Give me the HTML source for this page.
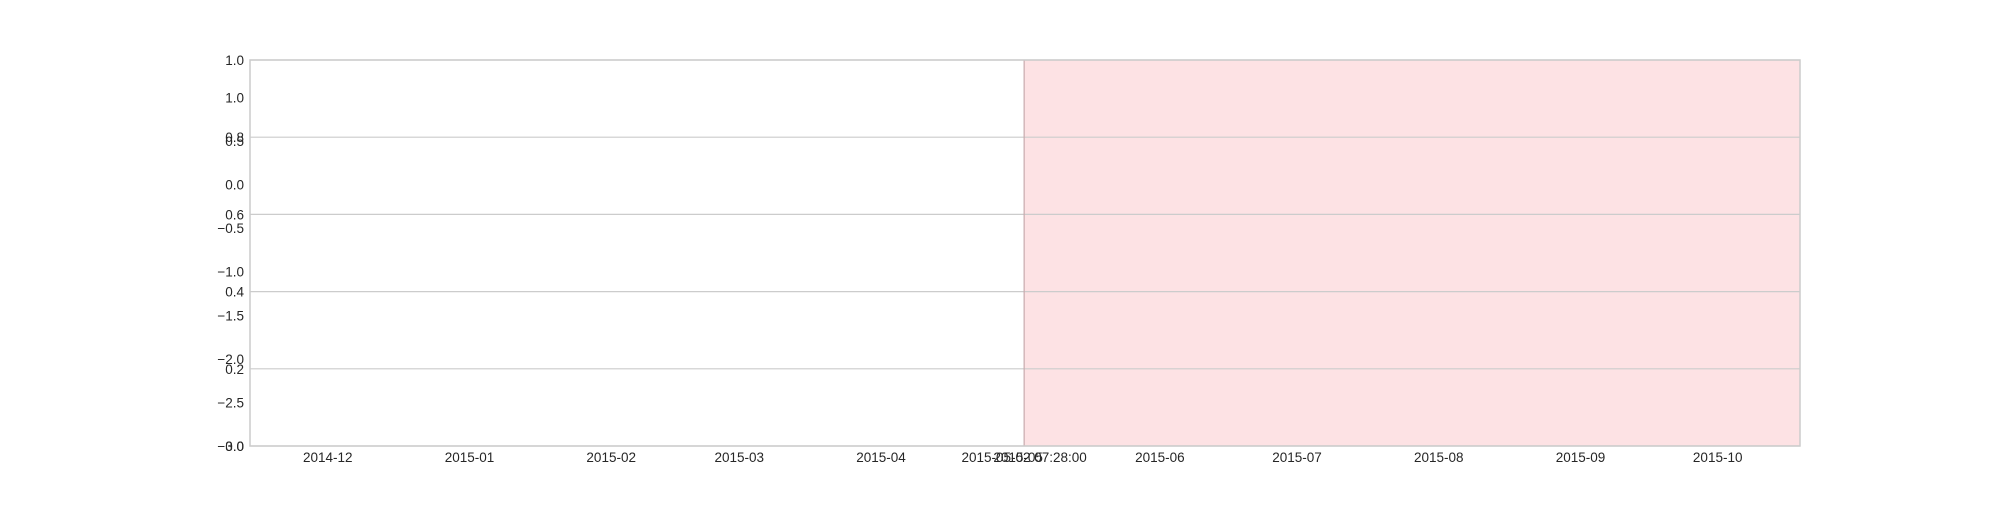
<!DOCTYPE html>
<html><head><meta charset="utf-8"><style>
body{margin:0;background:#fff;}
svg text{font-family:"Liberation Sans",sans-serif;font-size:13.5px;fill:#262626;}
</style></head><body>
<svg id="chart" width="2000" height="500" xmlns="http://www.w3.org/2000/svg">
<g id="plot"></g>
</svg>
<script>
const xStart = "2014-11-14", xEnd = "2015-10-19";
const monthTicks = ["2014-12","2015-01","2015-02","2015-03","2015-04","2015-05","2015-06","2015-07","2015-08","2015-09","2015-10"];
const shadeStart = "2015-05-02T07:28:00";
const shadeLabel = "2015-05-02 07:28:00";
const leftTicks = [0.0,0.2,0.4,0.6,0.8,1.0];
const rightTicks = [-3.0,-2.5,-2.0,-1.5,-1.0,-0.5,0.0,0.5,1.0];
const rightMin = -3.0, rightMax = 1.43;

const L=250,R=1800,T=60,B=446;
const t0=Date.parse(xStart+"T00:00:00Z"), t1=Date.parse(xEnd+"T00:00:00Z");
const x=d=>L+(Date.parse(d.length<=7?d+"-01T00:00:00Z":(d.includes("T")?d+"Z":d+"T00:00:00Z"))-t0)/(t1-t0)*(R-L);
const yL=v=>B-v*(B-T);
const yR=v=>B-(v-rightMin)/(rightMax-rightMin)*(B-T);
const svg=document.getElementById('plot');
const NS="http://www.w3.org/2000/svg";
function mk(tag,attrs,txt){const e=document.createElementNS(NS,tag);for(const k in attrs)e.setAttribute(k,attrs[k]);if(txt!==undefined)e.textContent=txt;svg.appendChild(e);return e;}

const sx=x(shadeStart);
const sh=mk('rect',{x:sx,y:T,width:R-sx,height:B-T,fill:'#fde2e4'});


leftTicks.forEach(v=>{
  const g=mk('line',{x1:L,x2:R,y1:yL(v),y2:yL(v),stroke:'#cccccc','stroke-width':1.2});
  
  
  const t=mk('text',{x:L-6,y:yL(v)+5,'text-anchor':'end'},v.toFixed(1));
  
  
});
const vl=mk('line',{x1:sx,x2:sx,y1:T,y2:B,stroke:'#c8aaae','stroke-width':1.2});


rightTicks.forEach(v=>{
  const t=mk('text',{x:L-6,y:yR(v)+5,'text-anchor':'end'},(v<0?'\u2212':'')+Math.abs(v).toFixed(1));
  
  
});
monthTicks.forEach(m=>{
  const t=mk('text',{x:x(m),y:B+16,'text-anchor':'middle'},m);
  
  
});
const st=mk('text',{x:sx,y:B+16,'text-anchor':'middle'},shadeLabel);


const fr=mk('rect',{x:L,y:T,width:R-L,height:B-T,fill:'none',stroke:'#cccccc','stroke-width':1.5});


</script>
</body></html>
